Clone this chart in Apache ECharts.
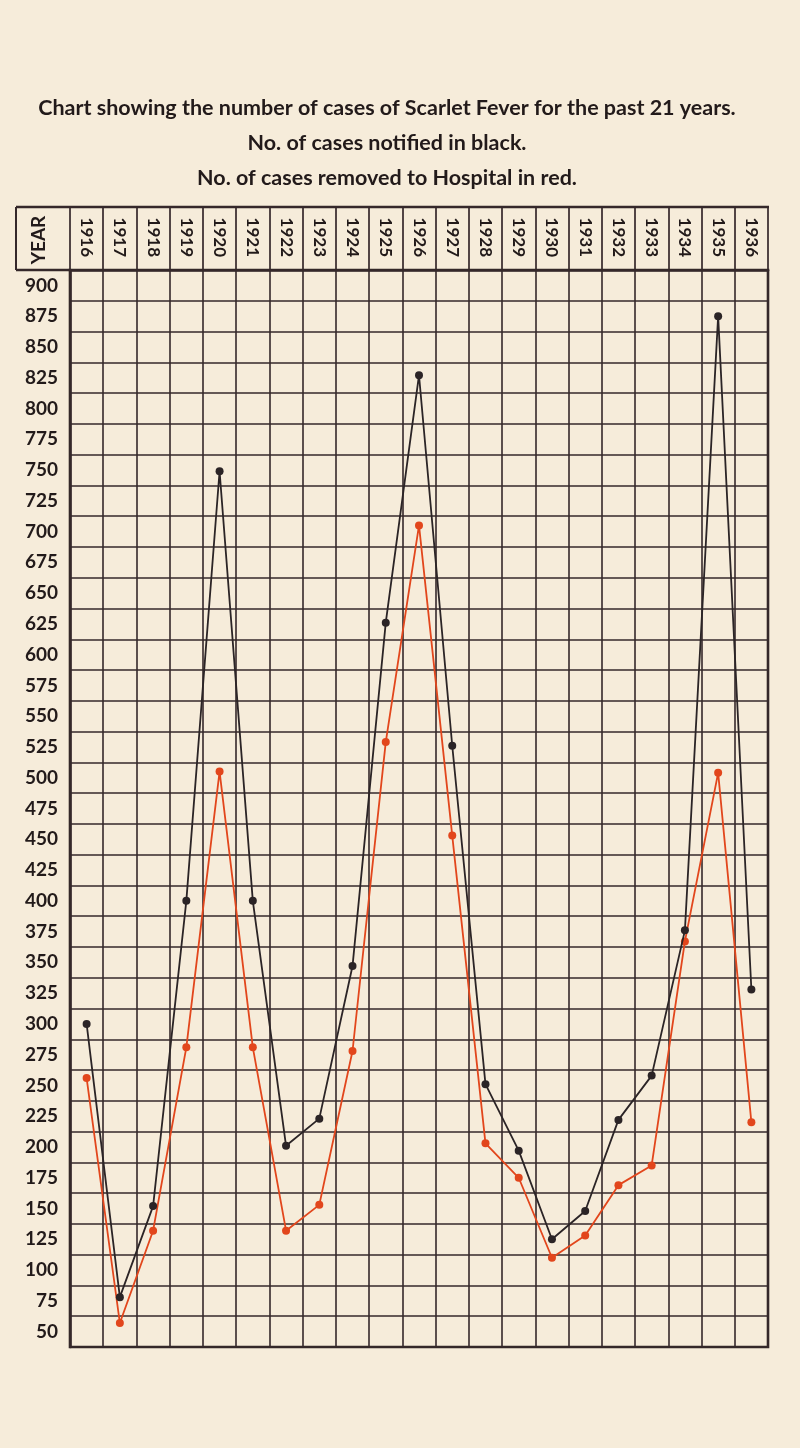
<!DOCTYPE html>
<html><head><meta charset="utf-8">
<script src="https://cdn.jsdelivr.net/npm/echarts@6/dist/echarts.min.js"></script>
<style>html,body{margin:0;padding:0;background:#f6ecda;}#c{width:800px;height:1448px;}</style>
</head><body><div id="c"></div>
<script>
const years = ['1916','1917','1918','1919','1920','1921','1922','1923','1924','1925','1926','1927','1928','1929','1930','1931','1932','1933','1934','1935','1936'];
const notified = [300,78,152,400,749,400,201,223,347,626,827,526,251,197,125,148,222,258,376,875,328];
const removed  = [256,57,132,281,505,281,132,153,278,529,705,453,203,175,110,128,169,185,367,504,220];
const tickLabels = ['50','75','100','125','150','175','200','225','250','275','300','325','350','375','400','425','450','475','500','525','550','575','600','625','650','675','700','725','750','775','800','825','850','875','900'];

const ink = '#35282a';
const chart = echarts.init(document.getElementById('c'));
chart.setOption({
  backgroundColor: '#f6ecda',
  animation: false,
  textStyle: { fontFamily: 'Lato' },
  graphic: [
    { type: 'text', x: 387, y: 108, style: { text: 'Chart showing the number of cases of Scarlet Fever for the past 21 years.', font: 'bold 21.5px Lato', fill: '#221a1a', align: 'center', verticalAlign: 'middle' } },
    { type: 'text', x: 387, y: 143, style: { text: 'No. of cases notified in black.', font: 'bold 21.5px Lato', fill: '#221a1a', align: 'center', verticalAlign: 'middle' } },
    { type: 'text', x: 387, y: 178, style: { text: 'No. of cases removed to Hospital in red.', font: 'bold 21.5px Lato', fill: '#221a1a', align: 'center', verticalAlign: 'middle' } },
    { type: 'line', shape: { x1: 16, y1: 207, x2: 769, y2: 207 }, style: { stroke: ink, lineWidth: 2.5 } },
    { type: 'line', shape: { x1: 16, y1: 207, x2: 16, y2: 270 }, style: { stroke: ink, lineWidth: 2 } },
    { type: 'line', shape: { x1: 16, y1: 270, x2: 70, y2: 270 }, style: { stroke: ink, lineWidth: 2.5 } },
    { type: 'text', x: 39, y: 240, rotation: Math.PI / 2, style: { text: 'YEAR', font: 'bold 19px Lato', fill: '#221a1a', align: 'center', verticalAlign: 'middle' } }
  ],
  grid: { left: 70, right: 32, top: 270, bottom: 101, show: true, borderColor: ink, borderWidth: 2.6, backgroundColor: 'transparent' },
  xAxis: {
    type: 'category', data: years, position: 'top', boundaryGap: true,
    axisLine: { show: true, lineStyle: { color: ink, width: 2.6 } },
    axisTick: { show: true, length: 63, lineStyle: { color: ink, width: 1.7 } },
    axisLabel: { rotate: 90, margin: 13, fontSize: 17, fontWeight: 'bold', color: '#221a1a', fontFamily: 'Lato' },
    splitLine: { show: true, lineStyle: { color: ink, width: 1.6 } }
  },
  yAxis: [
    {
      type: 'category', data: tickLabels, boundaryGap: true,
      axisLine: { show: true, lineStyle: { color: ink, width: 2.6 } },
      axisTick: { show: false },
      axisLabel: { margin: 12, fontSize: 19, fontWeight: 'bold', color: '#221a1a', fontFamily: 'Lato' },
      splitLine: { show: true, lineStyle: { color: ink, width: 1.6 } }
    },
    { type: 'value', min: 37.5, max: 912.5, show: false }
  ],
  series: [
    { name: 'Notified', type: 'line', yAxisIndex: 1, data: notified, symbol: 'circle', symbolSize: 8,
      itemStyle: { color: '#2b2426' }, lineStyle: { color: '#2b2426', width: 1.8 }, z: 5 },
    { name: 'Removed to Hospital', type: 'line', yAxisIndex: 1, data: removed, symbol: 'circle', symbolSize: 8,
      itemStyle: { color: '#e2461c' }, lineStyle: { color: '#e2461c', width: 1.8 }, z: 4 }
  ]
});
</script></body></html>
